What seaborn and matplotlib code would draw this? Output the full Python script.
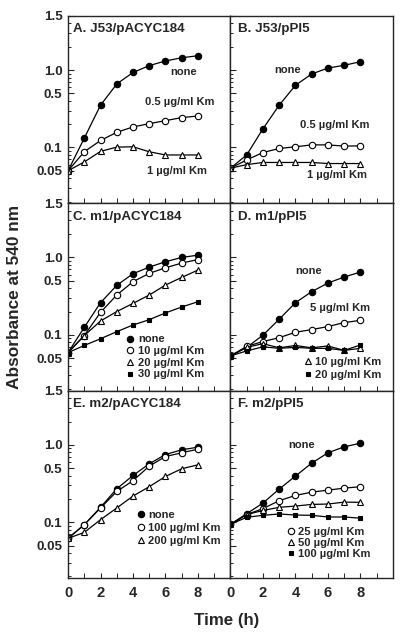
import matplotlib
matplotlib.use("Agg")
import matplotlib.pyplot as plt
from matplotlib.lines import Line2D
from matplotlib.ticker import FixedLocator, LogLocator, NullFormatter
import seaborn as sns

sns.set_style("ticks")
plt.rcParams['font.family'] = ['Liberation Sans', 'DejaVu Sans']
plt.rcParams['font.weight'] = 'bold'

# time points (h)
time = [0, 1, 2, 3, 4, 5, 6, 7, 8]

# A. J53/pACYC184
a_none = [0.05, 0.132, 0.351, 0.66, 0.93, 1.14, 1.31, 1.44, 1.53]
a_05 = [0.05, 0.088, 0.123, 0.157, 0.184, 0.203, 0.222, 0.243, 0.255]
a_1 = [0.05, 0.065, 0.089, 0.101, 0.102, 0.088, 0.080, 0.080, 0.080]

# B. J53/pPI5
b_none = [0.054, 0.080, 0.174, 0.351, 0.635, 0.888, 1.06, 1.15, 1.28]
b_05 = [0.054, 0.069, 0.086, 0.097, 0.102, 0.108, 0.108, 0.104, 0.105]
b_1 = [0.054, 0.060, 0.064, 0.064, 0.064, 0.064, 0.062, 0.062, 0.062]

# C. m1/pACYC184
c_none = [0.059, 0.125, 0.26, 0.436, 0.616, 0.75, 0.88, 1.0, 1.07]
c_10 = [0.059, 0.098, 0.195, 0.327, 0.486, 0.622, 0.736, 0.845, 0.94]
c_20 = [0.059, 0.098, 0.151, 0.20, 0.255, 0.327, 0.44, 0.552, 0.687]
c_30 = [0.059, 0.073, 0.089, 0.110, 0.134, 0.157, 0.192, 0.229, 0.268]

# D. m1/pPI5
d_none = [0.0535, 0.069, 0.099, 0.159, 0.26, 0.361, 0.467, 0.558, 0.647]
d_5 = [0.0535, 0.071, 0.082, 0.092, 0.108, 0.117, 0.128, 0.144, 0.154]
d_10 = [0.0535, 0.069, 0.077, 0.068, 0.073, 0.068, 0.072, 0.063, 0.067]
d_20 = [0.0535, 0.062, 0.070, 0.067, 0.069, 0.067, 0.067, 0.063, 0.074]

# E. m2/pACYC184
e_none = [0.062, 0.093, 0.156, 0.271, 0.402, 0.569, 0.75, 0.863, 0.933]
e_100 = [0.062, 0.093, 0.153, 0.25, 0.344, 0.531, 0.707, 0.789, 0.88]
e_200 = [0.062, 0.074, 0.108, 0.153, 0.218, 0.288, 0.391, 0.491, 0.552]

# F. m2/pPI5
f_none = [0.094, 0.129, 0.177, 0.268, 0.395, 0.58, 0.789, 0.942, 1.05]
f_25 = [0.094, 0.126, 0.15, 0.19, 0.222, 0.245, 0.26, 0.276, 0.288]
f_50 = [0.094, 0.126, 0.142, 0.156, 0.162, 0.17, 0.172, 0.182, 0.181]
f_100 = [0.094, 0.116, 0.123, 0.128, 0.124, 0.123, 0.117, 0.117, 0.113]

y_ticks = [0.05, 0.1, 0.5, 1.0, 5.0]
y_ticklabels = ['0.05', '0.1', '0.5', '1.0', '1.5']
x_ticks = [0, 2, 4, 6, 8]

styles = {
    'none': dict(marker='o', markerfacecolor='black', markersize=4.6),
    'open': dict(marker='o', markerfacecolor='white', markersize=4.6),
    'tri': dict(marker='^', markerfacecolor='white', markersize=4.6),
    'sq': dict(marker='s', markerfacecolor='black', markersize=3.4),
}

fig, axes = plt.subplots(3, 2, figsize=(4.05, 6.36), dpi=100)
fig.subplots_adjust(left=0.168, right=0.970, top=0.975, bottom=0.091,
                    wspace=0, hspace=0)


def draw(ax, series):
    for vals, st in series:
        sns.lineplot(x=time, y=vals, ax=ax, color='black', linewidth=0.9,
                     markeredgecolor='black', markeredgewidth=0.8, **styles[st])


def legend(ax, entries, x, y, spacing):
    handles = [Line2D([], [], color='black', linestyle='none',
                      markeredgecolor='black', markeredgewidth=0.8, **styles[st])
               for st, _ in entries]
    ax.legend(handles, [lab for _, lab in entries], loc='upper left',
              bbox_to_anchor=(x, y), frameon=False, borderpad=0,
              borderaxespad=0, handlelength=0.6, handletextpad=0.4,
              labelspacing=spacing, prop=dict(size=8, weight='bold'))


def label(ax, x, y, s):
    ax.text(x, y, s, transform=ax.transAxes, fontsize=8,
            fontweight='bold', ha='center', va='center')


panels = [
    (axes[0, 0], 'A. J53/pACYC184',
     [(a_none, 'none'), (a_05, 'open'), (a_1, 'tri')]),
    (axes[0, 1], 'B. J53/pPI5',
     [(b_none, 'none'), (b_05, 'open'), (b_1, 'tri')]),
    (axes[1, 0], 'C. m1/pACYC184',
     [(c_none, 'none'), (c_10, 'open'), (c_20, 'tri'), (c_30, 'sq')]),
    (axes[1, 1], 'D. m1/pPI5',
     [(d_none, 'none'), (d_5, 'open'), (d_10, 'tri'), (d_20, 'sq')]),
    (axes[2, 0], 'E. m2/pACYC184',
     [(e_none, 'none'), (e_100, 'open'), (e_200, 'tri')]),
    (axes[2, 1], 'F. m2/pPI5',
     [(f_none, 'none'), (f_25, 'open'), (f_50, 'tri'), (f_100, 'sq')]),
]

for i, (ax, title, series) in enumerate(panels):
    draw(ax, series)
    ax.set_yscale('log')
    ax.set_ylim(0.019, 5.0)
    ax.set_xlim(0, 10)
    ax.yaxis.set_major_locator(FixedLocator(y_ticks))
    ax.yaxis.set_minor_locator(LogLocator(base=10, subs=range(2, 10)))
    ax.yaxis.set_minor_formatter(NullFormatter())
    ax.set_xticks(x_ticks)
    ax.xaxis.set_minor_locator(FixedLocator([1, 3, 5, 7, 9]))
    ax.tick_params(which='major', direction='in', length=4, width=0.8,
                   labelsize=9.6, pad=4)
    ax.tick_params(which='minor', direction='in', length=2.5, width=0.7)
    ax.tick_params(axis='x', which='both', length=3.5)
    ax.tick_params(axis='x', labelsize=10.6, pad=6)
    for s in ax.spines.values():
        s.set_visible(True)
        s.set_linewidth(1.0)
    if i % 2 == 0:
        ax.set_yticklabels(y_ticklabels)
    else:
        ax.set_yticklabels([])
    if i < 4:
        ax.set_xticklabels([])
    ax.set_xlabel('')
    ax.set_ylabel('')
    tx = 0.031 if i % 2 == 0 else 0.045
    ax.text(tx, 0.928, title, transform=ax.transAxes, fontsize=9.6,
            fontweight='bold', ha='left', va='center')

axA, axB, axC, axD, axE, axF = [p[0] for p in panels]

label(axA, 0.71, 0.702, 'none')
label(axA, 0.685, 0.543, '0.5 µg/ml Km')
label(axA, 0.673, 0.17, '1 µg/ml Km')
label(axB, 0.35, 0.713, 'none')
label(axB, 0.644, 0.42, '0.5 µg/ml Km')
label(axB, 0.656, 0.149, '1 µg/ml Km')
label(axD, 0.479, 0.638, 'none')
label(axD, 0.675, 0.441, '5 µg/ml Km')
label(axF, 0.436, 0.71, 'none')

legend(axC, [('none', 'none'), ('open', '10 µg/ml Km'),
             ('tri', '20 µg/ml Km'), ('sq', '30 µg/ml Km')], 0.364, 0.30, 0.15)
legend(axD, [('tri', '10 µg/ml Km'), ('sq', '20 µg/ml Km')], 0.454, 0.18, 0.25)
legend(axE, [('none', 'none'), ('open', '100 µg/ml Km'),
             ('tri', '200 µg/ml Km')], 0.426, 0.362, 0.25)
legend(axF, [('open', '25 µg/ml Km'), ('tri', '50 µg/ml Km'),
             ('sq', '100 µg/ml Km')], 0.35, 0.272, 0.1)

fig.text(0.035, 0.533, 'Absorbance at 540 nm', rotation=90, fontsize=12.4,
         fontweight='bold', ha='center', va='center')
fig.text(0.56, 0.025, 'Time (h)', fontsize=12.2, fontweight='bold',
         ha='center', va='center')

fig.savefig('out.png', dpi=100)
